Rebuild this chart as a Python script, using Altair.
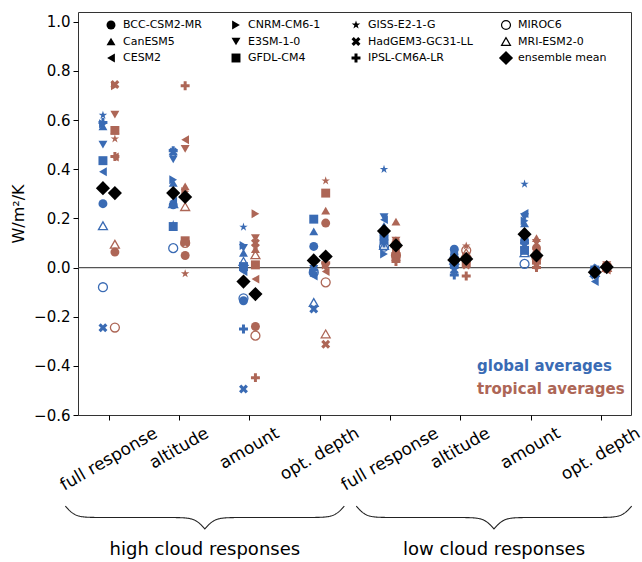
import altair as alt
import pandas as pd
import numpy as np

# ---------------- data ----------------
categories = ["full response", "altitude", "amount", "opt. depth",
              "full response", "altitude", "amount", "opt. depth"]
groups = ["high cloud responses", "low cloud responses"]
models = ["BCC-CSM2-MR", "CanESM5", "CESM2", "CNRM-CM6-1", "E3SM-1-0", "GFDL-CM4",
          "GISS-E2-1-G", "HadGEM3-GC31-LL", "IPSL-CM6A-LR", "MIROC6", "MRI-ESM2-0"]
open_models = ["MIROC6", "MRI-ESM2-0"]

global_vals = {
    "BCC-CSM2-MR":     [0.26, 0.255, -0.135, 0.086, 0.11, 0.075, 0.11, -0.01],
    "CanESM5":         [0.575, 0.345, 0.06, 0.147, 0.17, 0.01, 0.18, -0.02],
    "CESM2":           [0.39, 0.27, -0.016, -0.034, 0.195, 0.06, 0.22, -0.057],
    "CNRM-CM6-1":      [0.585, 0.357, 0.09, -0.02, 0.055, 0.05, 0.19, -0.015],
    "E3SM-1-0":        [0.50, 0.44, 0.08, -0.005, 0.205, 0.04, 0.205, -0.02],
    "GFDL-CM4":        [0.435, 0.167, 0.004, 0.197, 0.13, 0.02, 0.07, -0.01],
    "GISS-E2-1-G":     [0.62, 0.175, 0.165, 0.0, 0.40, 0.065, 0.34, 0.0],
    "HadGEM3-GC31-LL": [-0.245, 0.47, -0.494, -0.169, 0.12, -0.01, 0.09, -0.03],
    "IPSL-CM6A-LR":    [0.59, 0.475, -0.25, -0.01, 0.10, -0.03, 0.10, -0.005],
    "MIROC6":          [-0.08, 0.079, -0.125, -0.02, 0.085, 0.035, 0.015, -0.01],
    "MRI-ESM2-0":      [0.17, 0.26, 0.025, -0.142, 0.09, 0.03, 0.06, -0.02],
}
tropical_vals = {
    "BCC-CSM2-MR":     [0.063, 0.049, -0.24, 0.181, 0.10, 0.04, 0.08, 0.005],
    "CanESM5":         [0.56, 0.33, 0.075, 0.232, 0.187, 0.05, 0.12, 0.0],
    "CESM2":           [0.45, 0.52, -0.047, -0.016, 0.06, 0.03, 0.06, -0.01],
    "CNRM-CM6-1":      [0.74, 0.31, 0.219, 0.01, 0.08, 0.035, 0.05, 0.005],
    "E3SM-1-0":        [0.622, 0.483, 0.12, 0.0, 0.11, 0.045, 0.10, 0.01],
    "GFDL-CM4":        [0.558, 0.109, 0.011, 0.303, 0.045, 0.02, 0.03, 0.0],
    "GISS-E2-1-G":     [0.524, -0.025, 0.09, 0.353, 0.11, 0.088, 0.07, 0.01],
    "HadGEM3-GC31-LL": [0.745, 0.10, 0.10, -0.312, 0.07, 0.01, 0.01, -0.005],
    "IPSL-CM6A-LR":    [0.452, 0.74, -0.448, 0.02, 0.025, -0.034, 0.0, 0.0],
    "MIROC6":          [-0.244, 0.10, -0.277, -0.06, 0.05, 0.07, 0.04, 0.005],
    "MRI-ESM2-0":      [0.095, 0.248, 0.052, -0.27, 0.10, 0.06, 0.06, 0.0],
}
ens_global = [0.323, 0.303, -0.057, 0.029, 0.149, 0.031, 0.136, -0.019]
ens_tropical = [0.303, 0.287, -0.108, 0.045, 0.09, 0.035, 0.049, 0.002]

# ---------------- style / layout ----------------
BLUE = "#3a6bb4"
BROWN = "#ad6656"
FONT = "DejaVu Sans"
W, H = 553, 403
XDOM = [-0.44, 7.43]
YDOM = [-0.6, 1.04]
OFF = 0.085
MS = 80


def poly(pts):
    return "M" + "L".join(f"{x:.3f},{y:.3f}" for x, y in pts) + "Z"


star = poly([((1.0 if k % 2 == 0 else 0.382) * np.cos(np.radians(-90 + 36 * k)),
              (1.0 if k % 2 == 0 else 0.382) * np.sin(np.radians(-90 + 36 * k))) for k in range(10)])
xfill = poly([(-0.5, -1), (0, -0.5), (0.5, -1), (1, -0.5), (0.5, 0), (1, 0.5),
              (0.5, 1), (0, 0.5), (-0.5, 1), (-1, 0.5), (-0.5, 0), (-1, -0.5)])
t = 1 / 3
pfill = poly([(-t, -1), (t, -1), (t, -t), (1, -t), (1, t), (t, t),
              (t, 1), (-t, 1), (-t, t), (-1, t), (-1, -t), (-t, -t)])
shapes = ["circle", "triangle-up", "triangle-left", "triangle-right", "triangle-down",
          "square", star, xfill, pfill, "circle", "triangle-up"]
shape_scale = alt.Scale(domain=models, range=shapes)

rows = []
for m in models:
    for region, vals, col, off in (("global", global_vals, BLUE, -OFF),
                                   ("tropical", tropical_vals, BROWN, OFF)):
        for i, v in enumerate(vals[m]):
            is_open = m in open_models
            rows.append(dict(model=m, region=region, x=i + off, value=v,
                             fillc="transparent" if is_open else col,
                             strokec=col, sw=1.3 if is_open else 0))
pts = pd.DataFrame(rows)

ens = pd.DataFrame(
    [dict(x=i - OFF, value=v) for i, v in enumerate(ens_global)] +
    [dict(x=i + OFF, value=v) for i, v in enumerate(ens_tropical)])

xs = alt.Scale(domain=XDOM, nice=False, zero=False)
ys = alt.Scale(domain=YDOM, nice=False, zero=False)
yvals = [round(-0.6 + 0.2 * k, 1) for k in range(9)]

zero = alt.Chart(pd.DataFrame({"z": [0.0]})).mark_rule(color="#555", strokeWidth=1.3).encode(
    y=alt.Y("z:Q", scale=ys))

points = alt.Chart(pts).mark_point(filled=True, opacity=1, size=MS).encode(
    x=alt.X("x:Q", scale=xs,
            axis=alt.Axis(values=list(range(8)), labels=False, tickSize=5, domain=False,
                          grid=False, title=None, tickColor="black")),
    y=alt.Y("value:Q", scale=ys,
            axis=alt.Axis(values=yvals, format=".1f", title="W/m²/K", labelFontSize=15,
                          titleFontSize=16, labelFont=FONT, titleFont=FONT,
                          titleFontWeight="normal", labelColor="black", titleColor="black",
                          tickColor="black", tickSize=5, domain=False, grid=False,
                          labelPadding=3, titlePadding=7)),
    shape=alt.Shape("model:N", scale=shape_scale, legend=None),
    fill=alt.Fill("fillc:N", scale=None),
    stroke=alt.Stroke("strokec:N", scale=None),
    strokeWidth=alt.StrokeWidth("sw:Q", scale=None),
)

ens_layer = alt.Chart(ens).mark_point(shape="diamond", filled=True, color="black",
                                      opacity=1, size=200).encode(
    x=alt.X("x:Q", scale=xs), y=alt.Y("value:Q", scale=ys))

# legend (manual, 4 columns x 3 rows)
leg_col_x = [33, 158, 278, 428]
leg_row_y = [13, 29.5, 46]
labels = models + ["ensemble mean"]
leg = pd.DataFrame([dict(model=m, lx=leg_col_x[k // 3], ly=leg_row_y[k % 3],
                         tx=leg_col_x[k // 3] + 12,
                         fillc="white" if m in open_models else "black",
                         sw=1.2 if m in open_models else 0)
                    for k, m in enumerate(labels)])
leg_m = leg[leg.model != "ensemble mean"]
leg_e = leg[leg.model == "ensemble mean"]

leg_pts = alt.Chart(leg_m).mark_point(filled=True, opacity=1, size=MS).encode(
    x=alt.X("lx:Q", scale=None, axis=None), y=alt.Y("ly:Q", scale=None, axis=None),
    shape=alt.Shape("model:N", scale=shape_scale, legend=None),
    fill=alt.Fill("fillc:N", scale=None), stroke=alt.value("black"),
    strokeWidth=alt.StrokeWidth("sw:Q", scale=None))
leg_ens = alt.Chart(leg_e).mark_point(shape="diamond", filled=True, color="black",
                                      opacity=1, size=200).encode(
    x=alt.X("lx:Q", scale=None, axis=None), y=alt.Y("ly:Q", scale=None, axis=None))
leg_txt = alt.Chart(leg).mark_text(align="left", baseline="middle", font=FONT,
                                   fontSize=11, color="black").encode(
    x=alt.X("tx:Q", scale=None, axis=None), y=alt.Y("ly:Q", scale=None, axis=None),
    text="model:N")

# region annotation
ann = pd.DataFrame(dict(txt=["global averages", "tropical averages"], ax=[399, 399],
                        ay=[354, 376.5], c=[BLUE, BROWN]))
ann_txt = alt.Chart(ann).mark_text(align="left", baseline="middle", font=FONT, fontSize=15,
                                   fontWeight="bold").encode(
    x=alt.X("ax:Q", scale=None, axis=None), y=alt.Y("ay:Q", scale=None, axis=None),
    text="txt:N", color=alt.Color("c:N", scale=None))

# rotated x tick labels (matplotlib-like: centered, tops aligned)
CW = {'a': .613, 'b': .635, 'c': .550, 'd': .635, 'e': .615, 'f': .352, 'g': .635, 'h': .634,
      'i': .278, 'l': .278, 'm': .974, 'n': .634, 'o': .612, 'p': .635, 'r': .411, 's': .521,
      't': .392, 'u': .634, ' ': .318, '.': .318}
XFS = 17
xl = pd.DataFrame([dict(x=i, lab=c,
                        ly=H + 9 + 0.5 * (0.5 * sum(CW.get(ch, .6) for ch in c) * XFS
                                          + 0.866 * 1.1 * XFS))
                   for i, c in enumerate(categories)])
xl_txt = alt.Chart(xl).mark_text(align="center", baseline="middle", font=FONT, fontSize=XFS,
                                 angle=330, color="black", clip=False).encode(
    x=alt.X("x:Q", scale=xs), y=alt.Y("ly:Q", scale=None, axis=None), text="lab:N")

# curly braces under the two groups
brace_spans = [(-0.62, 3.35), (3.52, 7.44)]
brows = []
for g, (a, b) in enumerate(brace_spans):
    n = 401
    xx = np.linspace(a, b, n)
    half = xx[: n // 2 + 1]
    beta = 14.0
    yh = 1 / (1 + np.exp(-beta * (half - half[0]))) + 1 / (1 + np.exp(-beta * (half - half[-1])))
    yy = np.concatenate((yh, yh[-2::-1]))
    for k, (px, py) in enumerate(zip(xx, yy)):
        brows.append(dict(g=g, i=k, bx=px, by=494 + (py - 0.5) * 23))
br = pd.DataFrame(brows)
braces = alt.Chart(br).mark_line(color="#222", strokeWidth=1.1, clip=False).encode(
    x=alt.X("bx:Q", scale=xs), y=alt.Y("by:Q", scale=None, axis=None),
    detail="g:N", order="i:Q")

gl = pd.DataFrame(dict(txt=groups, gx=[(a + b) / 2 for a, b in brace_spans], gy=[538, 538]))
gl_txt = alt.Chart(gl).mark_text(align="center", baseline="middle", font=FONT, fontSize=18,
                                 color="black", clip=False).encode(
    x=alt.X("gx:Q", scale=xs), y=alt.Y("gy:Q", scale=None, axis=None), text="txt:N")

chart = alt.layer(zero, points, ens_layer, leg_pts, leg_ens, leg_txt, ann_txt, xl_txt,
                  braces, gl_txt).properties(
    width=W, height=H,
    padding={"left": 78, "top": 12, "right": 11, "bottom": 147},
    autosize=alt.AutoSizeParams(type="none"),
    background="white",
).configure_view(stroke="#333", strokeWidth=1)

chart.save("out.html", embed_options={"renderer": "svg", "actions": False})
